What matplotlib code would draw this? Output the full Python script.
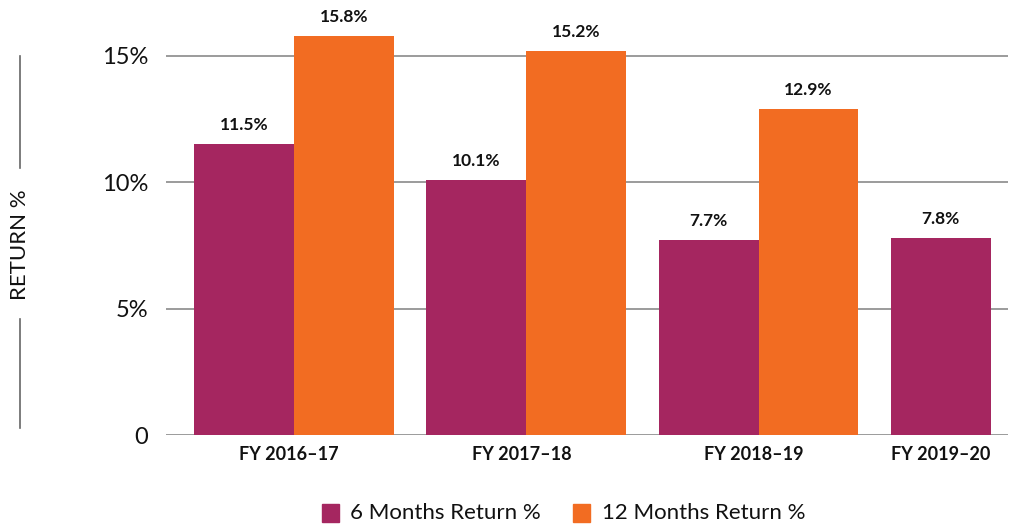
import matplotlib
matplotlib.use("Agg")
import matplotlib.pyplot as plt
import numpy as np
from matplotlib.patches import Rectangle

categories = ["FY 2016–17", "FY 2017–18", "FY 2018–19", "FY 2019–20"]
six_month = [11.5, 10.1, 7.7, 7.8]
twelve_month = [15.8, 15.2, 12.9, None]
yticks = [0, 5, 10, 15]
ytick_labels = ["0", "5%", "10%", "15%"]

PURPLE = "#A52660"
ORANGE = "#F26C22"
GRID = "#8a8a8a"
FONT = "Lato"

fig = plt.figure(figsize=(10.1, 5.25), dpi=100)
ax = fig.add_axes([166/1010, 90/525, (1008-166)/1010, 17*25.27/525])

w = 0.43
x = np.arange(len(categories))
ax.bar(x, six_month, width=w, align="edge", color=PURPLE, zorder=3)
tw_x = [xi + w for xi, v in zip(x, twelve_month) if v is not None]
tw_v = [v for v in twelve_month if v is not None]
ax.bar(tw_x, tw_v, width=w, align="edge", color=ORANGE, zorder=3)

for xi, v in zip(x, six_month):
    ax.annotate(f"{v:.1f}%", (xi + w/2, v), xytext=(0, 8), textcoords="offset points",
                ha="center", va="bottom", fontsize=12.5, fontweight="bold", family=FONT, color="#111")
for xi, v in zip(tw_x, tw_v):
    ax.annotate(f"{v:.1f}%", (xi + w/2, v), xytext=(0, 8), textcoords="offset points",
                ha="center", va="bottom", fontsize=12.5, fontweight="bold", family=FONT, color="#111")

for y in yticks:
    ax.axhline(y, color=GRID, lw=1.2, zorder=1)

ax.set_xlim(-0.1205, 3.504)
ax.set_ylim(0, 17)
ax.set_yticks(yticks)
ax.set_yticklabels(ytick_labels, fontsize=17, family=FONT, color="#111")
tick_pos = [xi + w - 0.02 if v is not None else xi + w/2 for xi, v in zip(x, twelve_month)]
ax.set_xticks(tick_pos)
ax.set_xticklabels(categories, fontsize=13, fontweight="bold", family=FONT, color="#111")
ax.tick_params(axis="both", length=0)
ax.tick_params(axis="y", pad=13)
ax.tick_params(axis="x", pad=8)
for s in ax.spines.values():
    s.set_visible(False)

# y-axis title with lines
fig.text(20/1010, 1 - 245/525, "RETURN %", rotation=90, ha="center", va="center",
         fontsize=16, family=FONT, color="#111")
fig.add_artist(plt.Line2D([19.5/1010, 19.5/1010], [1 - 56/525, 1 - 168/525], color="#666", lw=1.2))
fig.add_artist(plt.Line2D([19.5/1010, 19.5/1010], [1 - 319/525, 1 - 428/525], color="#666", lw=1.2))

# legend
fig.add_artist(Rectangle((322/1010, 1 - 522/525), 17/1010, 18/525, color=PURPLE, transform=fig.transFigure))
fig.text(350/1010, 1 - 513/525, "6 Months Return %", ha="left", va="center", fontsize=16, family=FONT, color="#111")
fig.add_artist(Rectangle((573/1010, 1 - 522/525), 17/1010, 18/525, color=ORANGE, transform=fig.transFigure))
fig.text(602/1010, 1 - 513/525, "12 Months Return %", ha="left", va="center", fontsize=16, family=FONT, color="#111")

fig.savefig("out.png", dpi=100)
